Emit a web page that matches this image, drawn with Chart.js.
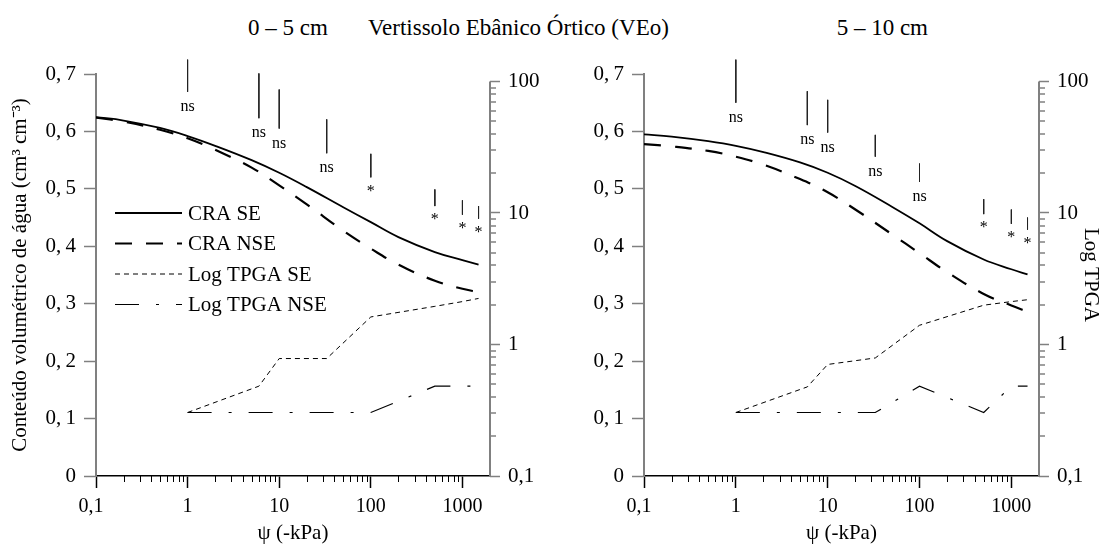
<!DOCTYPE html>
<html>
<head>
<meta charset="utf-8">
<script src="https://cdn.jsdelivr.net/npm/chart.js@4.4.1/dist/chart.umd.min.js"></script>
<style>
  html, body { margin: 0; padding: 0; background: #fff; }
  #wrap { position: relative; width: 1103px; height: 548px; overflow: hidden;
          font-family: "Liberation Serif", "Times New Roman", Times, serif; color: #000; }
  canvas { position: absolute; top: 0; }
  .t { position: absolute; top: 15px; font-size: 23px; white-space: nowrap; }
</style>
</head>
<body>
<div id="wrap">
  <div class="t" style="left:248px">0 – 5 cm</div>
  <div class="t" style="left:368px">Vertissolo Ebânico Órtico (VEo)</div>
  <div class="t" style="right:175px">5 – 10 cm</div>
  <canvas id="c1" width="551" height="548" style="left:0"></canvas>
  <canvas id="c2" width="552" height="548" style="left:551px"></canvas>
</div>
<script>
// tensões (kPa) onde as curvas foram lidas
const psiCurve = [0.1, 0.2, 0.5, 1, 2, 5, 10, 20, 50, 100, 200, 500, 1000, 1500];
const craSE_0_5   = [0.625, 0.619, 0.606, 0.592, 0.575, 0.550, 0.528, 0.503, 0.468, 0.442, 0.416, 0.390, 0.376, 0.368];
const craNSE_0_5  = [0.624, 0.617, 0.603, 0.588, 0.568, 0.537, 0.506, 0.473, 0.427, 0.396, 0.368, 0.340, 0.326, 0.320];
const craSE_5_10  = [0.595, 0.591, 0.583, 0.575, 0.564, 0.546, 0.528, 0.505, 0.469, 0.440, 0.409, 0.377, 0.360, 0.351];
const craNSE_5_10 = [0.578, 0.574, 0.566, 0.556, 0.542, 0.517, 0.494, 0.464, 0.421, 0.388, 0.355, 0.317, 0.297, 0.286];

// TPGA (eixo log da direita)
const psiTpga = [1, 6, 10, 33, 100, 500, 1000, 1500];
const tpgaSE_0_5   = [0.304, 0.482, 0.782, 0.782, 1.62, 1.95, 2.12, 2.24];
const tpgaNSE_0_5  = [0.304, 0.304, 0.304, 0.304, 0.304, 0.482, 0.482, 0.482];
const tpgaSE_5_10  = [0.304, 0.476, 0.705, 0.790, 1.40, 1.99, 2.12, 2.19];
const tpgaNSE_5_10 = [0.304, 0.304, 0.304, 0.304, 0.482, 0.304, 0.482, 0.482];

// barras de significância (em unidades do eixo da esquerda)
const sigTop_0_5     = [0.725, 0.701, 0.673, 0.621, 0.561, 0.499, 0.480, 0.470];
const sigBottom_0_5  = [0.669, 0.623, 0.605, 0.562, 0.520, 0.470, 0.455, 0.448];
const sigLabel_0_5   = ["ns", "ns", "ns", "ns", "*", "*", "*", "*"];
const sigTop_5_10    = [0.725, 0.670, 0.655, 0.594, 0.544, 0.482, 0.464, 0.450];
const sigBottom_5_10 = [0.650, 0.611, 0.598, 0.556, 0.512, 0.456, 0.439, 0.429];
const sigLabel_5_10  = ["ns", "ns", "ns", "ns", "ns", "*", "*", "*"];

const xTicks = [0.1, 1, 10, 100, 1000];
const yRightTicks = [0.1, 1, 10, 100];
const legendNames = ["CRA SE", "CRA NSE", "Log TPGA SE", "Log TPGA NSE"];

const FONT = '"Liberation Serif", "Times New Roman", Times, serif';
const comma = v => String(v).replace(".", ",");

function minors(from, to) {
    const out = [];
    for (let d = from; d < to; d *= 10) {
        for (let k = 2; k <= 9; k++) {
            const v = +(d * k).toPrecision(3);
            if (v < to) out.push(v);
        }
    }
    return out;
}

const extras = {
    id: "extras",
    afterDraw(chart, args, opts) {
        const { ctx, chartArea } = chart;
        const x = chart.scales.x, y = chart.scales.y, y2 = chart.scales.y2;
        ctx.save();

        // marcas menores do eixo x
        ctx.strokeStyle = "#000";
        ctx.lineWidth = 1;
        minors(0.1, 2000).forEach(v => {
            const px = Math.round(x.getPixelForValue(v)) + 0.5;
            ctx.beginPath();
            ctx.moveTo(px, chartArea.bottom);
            ctx.lineTo(px, chartArea.bottom + 6);
            ctx.stroke();
        });

        // eixo log da direita (0,1 a 100)
        ctx.strokeStyle = "#808080";
        ctx.lineWidth = 2;
        ctx.beginPath();
        ctx.moveTo(chartArea.right, y2.getPixelForValue(0.1) + 1);
        ctx.lineTo(chartArea.right, y2.getPixelForValue(100));
        ctx.stroke();
        ctx.lineWidth = 1.5;
        minors(0.1, 100).forEach(v => {
            const py = Math.round(y2.getPixelForValue(v));
            ctx.beginPath();
            ctx.moveTo(chartArea.right, py);
            ctx.lineTo(chartArea.right + 6, py);
            ctx.stroke();
        });

        // rótulos ns / *
        ctx.fillStyle = "#000";
        ctx.textAlign = "center";
        ctx.textBaseline = "middle";
        ctx.font = `16px ${FONT}`;
        opts.labels.forEach((lab, i) => {
            const px = x.getPixelForValue(opts.psi[i]);
            const py = y.getPixelForValue(opts.bottoms[i]);
            ctx.fillText(lab, px, py + (lab === "*" ? 14 : 15));
        });

        // legenda
        if (opts.legend) {
            ctx.font = `21px ${FONT}`;
            ctx.textAlign = "left";
            legendNames.forEach((name, i) => {
                const ds = chart.data.datasets.find(d => d.label === name);
                const ly = 213 + i * 30.5;
                ctx.strokeStyle = "#000";
                ctx.lineWidth = ds.borderWidth;
                ctx.setLineDash(ds.borderDash || []);
                ctx.beginPath();
                ctx.moveTo(115, ly);
                ctx.lineTo(182, ly);
                ctx.stroke();
                ctx.setLineDash([]);
                ctx.fillText(name, 188, ly + 1);
            });
        }
        ctx.restore();
    }
};

function pts(xs, ys) {
    return xs.map((v, i) => ({ x: v, y: ys[i] }));
}

function sigSegments(xs, tops, bottoms) {
    const out = [];
    xs.forEach((v, i) => {
        out.push({ x: v, y: tops[i] }, { x: v, y: bottoms[i] }, { x: v, y: null });
    });
    return out;
}

function makeChart(canvasId, d) {
    new Chart(document.getElementById(canvasId), {
        type: "line",
        plugins: [extras],
        data: {
            datasets: [
                { label: "CRA SE", data: pts(psiCurve, d.craSE), yAxisID: "y",
                  borderColor: "#000", borderWidth: 1.8, tension: 0.4 },
                { label: "CRA NSE", data: pts(psiCurve, d.craNSE), yAxisID: "y",
                  borderColor: "#000", borderWidth: 2.2, borderDash: [17, 14], tension: 0.4 },
                { label: "Log TPGA SE", data: pts(psiTpga, d.tpgaSE), yAxisID: "y2",
                  borderColor: "#000", borderWidth: 1, borderDash: [5, 4], tension: 0 },
                { label: "Log TPGA NSE", data: pts(psiTpga, d.tpgaNSE), yAxisID: "y2",
                  borderColor: "#000", borderWidth: 1.2, borderDash: [24, 17, 3, 17], tension: 0 },
                { label: "sig", data: sigSegments(psiTpga, d.sigTop, d.sigBottom), yAxisID: "y",
                  borderColor: "#222", borderWidth: 1, spanGaps: false, clip: false }
            ]
        },
        options: {
            responsive: false,
            animation: false,
            devicePixelRatio: 1,
            layout: { padding: { top: 74, left: 0, right: 0, bottom: 0 } },
            elements: { point: { radius: 0 } },
            plugins: {
                legend: { display: false },
                tooltip: { enabled: false },
                extras: { labels: d.sigLabel, psi: psiTpga, bottoms: d.sigBottom, legend: d.legend }
            },
            scales: {
                x: {
                    type: "logarithmic", min: 0.1, max: 2000,
                    afterBuildTicks: s => { s.ticks = xTicks.map(v => ({ value: v })); },
                    afterFit: s => { s.height = 72; },
                    border: { color: "#000", width: 1.5 },
                    grid: { drawOnChartArea: false, tickLength: 12, tickColor: "#000", tickWidth: 1.5 },
                    ticks: { color: "#000", padding: 7, maxRotation: 0, autoSkip: false,
                             font: { family: FONT, size: 20 },
                             callback: v => v === 0.1 ? "0,1\u2002" : comma(v) },
                    title: { display: true, text: "ψ (-kPa)", color: "#000", padding: { top: 0, bottom: 2 },
                             font: { family: FONT, size: 21 } }
                },
                y: {
                    type: "linear", position: "left", min: 0, max: 0.7,
                    afterFit: s => { s.width = d.leftW; },
                    border: { color: "#808080", width: 2 },
                    grid: { drawOnChartArea: false, tickLength: 12, tickColor: "#808080", tickWidth: 1.5 },
                    ticks: { stepSize: 0.1, color: "#000", padding: 8,
                             font: { family: FONT, size: 21 },
                             callback: v => v === 0 ? "0" : v.toFixed(1).replace(".", ",\u2009") },
                    title: { display: d.leftTitle, color: "#000", padding: { top: 8, bottom: 0 },
                             text: "Conteúdo volumétrico de água (cm³ cm⁻³)",
                             font: { family: FONT, size: 21 } }
                },
                y2: {
                    type: "logarithmic", position: "right", min: 0.1, max: 114,
                    afterBuildTicks: s => { s.ticks = yRightTicks.map(v => ({ value: v })); },
                    afterFit: s => { s.width = d.rightW; },
                    border: { display: false },
                    grid: { drawOnChartArea: false, tickLength: 10, tickColor: "#808080", tickWidth: 1.5 },
                    ticks: { color: "#000", padding: 8, font: { family: FONT, size: 21 },
                             callback: v => comma(v) },
                    title: { display: d.rightTitle, text: "Log TPGA", color: "#000",
                             padding: { top: 0, bottom: 0 }, font: { family: FONT, size: 21 } }
                }
            }
        }
    });
}

makeChart("c1", {
    craSE: craSE_0_5, craNSE: craNSE_0_5, tpgaSE: tpgaSE_0_5, tpgaNSE: tpgaNSE_0_5,
    sigTop: sigTop_0_5, sigBottom: sigBottom_0_5, sigLabel: sigLabel_0_5,
    leftW: 96, rightW: 61, leftTitle: true, rightTitle: false, legend: true
});
makeChart("c2", {
    craSE: craSE_5_10, craNSE: craNSE_5_10, tpgaSE: tpgaSE_5_10, tpgaNSE: tpgaNSE_5_10,
    sigTop: sigTop_5_10, sigBottom: sigBottom_5_10, sigLabel: sigLabel_5_10,
    leftW: 93, rightW: 64, leftTitle: false, rightTitle: true, legend: false
});
</script>
</body>
</html>
